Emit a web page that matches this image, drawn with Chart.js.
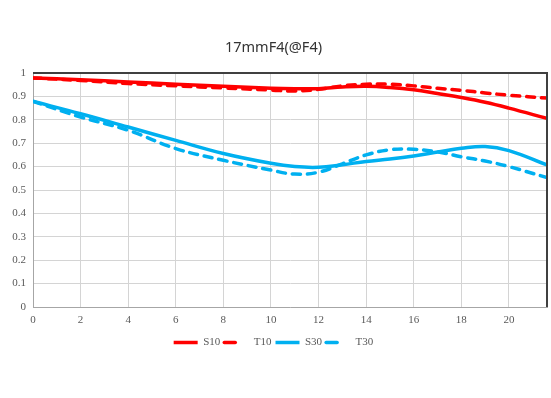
<!DOCTYPE html>
<html lang="en">

<head>
    <meta charset="UTF-8">
    <title>17mmF4 MTF</title>
    <script src="https://cdn.jsdelivr.net/npm/chart.js"></script>
    <style>
        html, body {
            margin: 0;
            padding: 0;
            background: #ffffff;
        }
        .chart-container {
            width: 551px;
            height: 398px;
        }
    </style>
</head>

<body>
    <div class="chart-container">
        <canvas id="mtfChart"></canvas>
    </div>

    <script>
        // image height (mm) and MTF values
        const xValues = [0, 2, 4, 6, 8, 10, 11, 12, 13, 14, 15, 16, 17, 18, 19, 20, 21.6];
        const s10 = [0.979, 0.971, 0.962, 0.952, 0.943, 0.935, 0.933, 0.933, 0.940, 0.943, 0.938, 0.928, 0.912, 0.895, 0.875, 0.850, 0.806];
        const t10 = [0.979, 0.968, 0.955, 0.945, 0.936, 0.927, 0.923, 0.930, 0.945, 0.952, 0.952, 0.945, 0.935, 0.926, 0.915, 0.905, 0.893];
        const s30 = [0.879, 0.826, 0.769, 0.712, 0.656, 0.614, 0.600, 0.597, 0.608, 0.622, 0.632, 0.645, 0.662, 0.678, 0.686, 0.668, 0.607];
        const t30 = [0.879, 0.812, 0.755, 0.677, 0.627, 0.585, 0.568, 0.576, 0.612, 0.650, 0.672, 0.674, 0.663, 0.642, 0.624, 0.600, 0.553];
        const seriesNames = ['S10', 'T10', 'S30', 'T30'];

        const RED = '#ff0000';
        const BLUE = '#00b0f0';
        const tickFont = { family: "'Liberation Serif', serif", size: 11 };

        function toPoints(values) {
            return values.map((v, i) => ({ x: xValues[i], y: v }));
        }

        function makeDataset(label, values, color, dashed) {
            return {
                label: label,
                data: toPoints(values),
                borderColor: color,
                backgroundColor: color,
                borderWidth: 3.5,
                borderDash: dashed ? [8, 7] : [],
                borderCapStyle: dashed ? 'round' : 'butt',
                pointRadius: 0,
                fill: false,
                tension: 0.4
            };
        }

        // dark frame on the top and right edges of the plot
        const frame = {
            id: 'frame',
            afterDraw(chart) {
                const { ctx, chartArea: a } = chart;
                ctx.save();
                ctx.strokeStyle = '#404040';
                ctx.lineWidth = 2;
                ctx.beginPath();
                ctx.moveTo(a.left, a.top);
                ctx.lineTo(a.right, a.top);
                ctx.lineTo(a.right, a.bottom);
                ctx.stroke();
                ctx.restore();
            }
        };

        const config = {
            type: 'line',
            data: {
                datasets: [
                    makeDataset(seriesNames[0], s10, RED, false),
                    makeDataset(seriesNames[1], t10, RED, true),
                    makeDataset(seriesNames[2], s30, BLUE, false),
                    makeDataset(seriesNames[3], t30, BLUE, true)
                ]
            },
            options: {
                responsive: true,
                maintainAspectRatio: false,
                animation: false,
                layout: {
                    padding: { left: 0, right: 4, top: 0, bottom: 40 }
                },
                scales: {
                    x: {
                        type: 'linear',
                        min: 0,
                        max: 21.6,
                        afterFit: (scale) => { scale.height = 26; },
                        ticks: {
                            stepSize: 2,
                            includeBounds: false,
                            padding: 7,
                            color: '#595959',
                            font: tickFont
                        },
                        grid: {
                            color: '#d4d4d4',
                            drawTicks: false
                        },
                        border: { color: '#a6a6a6' }
                    },
                    y: {
                        min: 0,
                        max: 1,
                        afterFit: (scale) => { scale.width = 33; },
                        ticks: {
                            stepSize: 0.1,
                            padding: 7,
                            color: '#595959',
                            font: tickFont,
                            callback: (value) => String(Math.round(value * 10) / 10)
                        },
                        grid: {
                            color: '#d4d4d4',
                            drawTicks: false
                        },
                        border: { color: '#a6a6a6' }
                    }
                },
                plugins: {
                    title: {
                        display: true,
                        text: '17mmF4(@F4)',
                        color: '#333333',
                        font: { family: "'Noto Sans', sans-serif", size: 14.5, weight: 'normal' },
                        padding: { top: 39, bottom: 16.6 }
                    },
                    legend: {
                        position: 'bottom',
                        labels: {
                            usePointStyle: true,
                            pointStyle: 'line',
                            pointStyleWidth: 24,
                            padding: 4,
                            color: '#595959',
                            font: tickFont,
                            generateLabels: (chart) => {
                                const items = Chart.defaults.plugins.legend.labels.generateLabels(chart);
                                items.forEach((item, i) => {
                                    const dashed = chart.data.datasets[i].borderDash.length > 0;
                                    item.pointStyle = 'line';
                                    item.lineDash = dashed ? [11, 40] : [];
                                    item.lineCap = dashed ? 'round' : 'butt';
                                });
                                return items;
                            }
                        }
                    },
                    tooltip: { enabled: false }
                }
            },
            plugins: [frame]
        };

        const ctx = document.getElementById('mtfChart').getContext('2d');
        new Chart(ctx, config);
    </script>
</body>

</html>
